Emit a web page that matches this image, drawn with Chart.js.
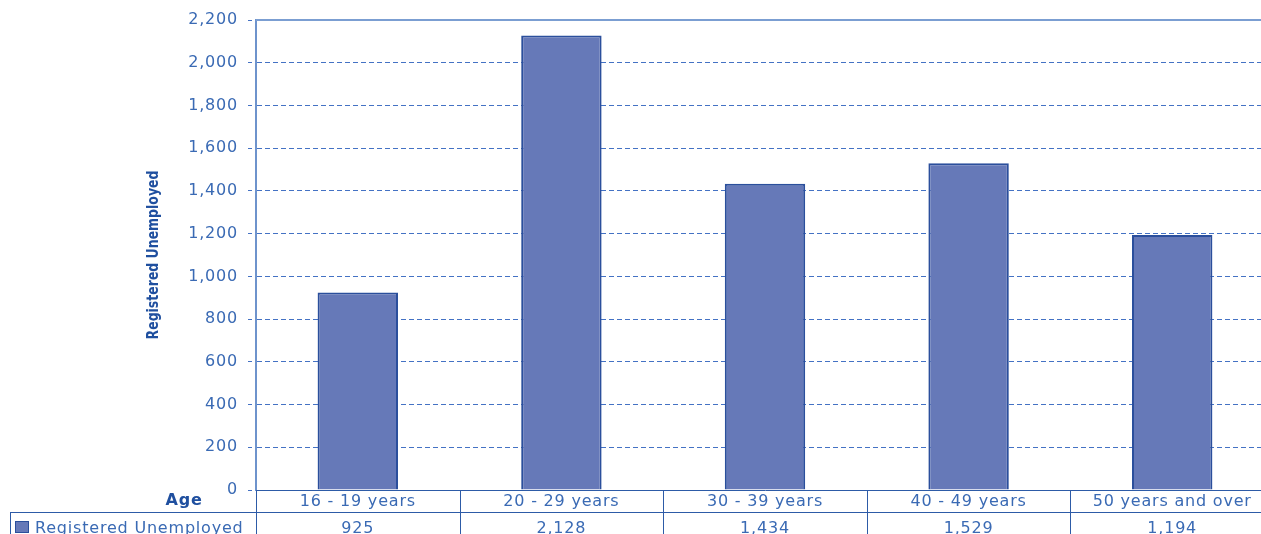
<!DOCTYPE html>
<html>
<head>
<meta charset="utf-8">
<script src="https://cdn.jsdelivr.net/npm/chart.js@4/dist/chart.umd.min.js"></script>
<style>
  html, body { margin: 0; padding: 0; background: #fff; overflow: hidden; }
  #wrap { position: relative; width: 1280px; height: 534px; }
</style>
</head>
<body>
<div id="wrap"><canvas id="chart"></canvas></div>
<script>
// data
const AGES = ['16 - 19 years', '20 - 29 years', '30 - 39 years', '40 - 49 years', '50 years and over'];
const UNEMPLOYED = [925, 2128, 1434, 1529, 1194];
const SERIES_NAME = 'Registered Unemployed';
const AXIS_TITLE = 'Registered Unemployed';
const TABLE_HEAD = 'Age';

const BLUE_TXT = '#3a6ab4';
const DARK_TXT = '#1f4f9f';
const LINE = '#2d5ba7';
const BAR_FILL = '#6679b8';
const BAR_EDGE = '#2b4f9c';
const SPACING = '0.8px';

function fmt(n){ return Number(n).toLocaleString('en-US'); }

// the old chart's text is a bit wider than DejaVu, widen it a little
const spacingPlugin = {
  id: 'spacing',
  beforeLayout(chart){ chart.ctx.letterSpacing = SPACING; },
  beforeDraw(chart){ chart.ctx.letterSpacing = SPACING; }
};

// draws the frame top line, the y title and the data table under the axis
const tablePlugin = {
  id: 'dataTable',
  afterDraw(chart){
    const ctx = chart.ctx;
    const area = chart.chartArea;
    const x = chart.scales.x;
    const catW = (area.right - area.left) / AGES.length;
    const y0 = area.bottom, y1 = area.bottom + 22, y2 = chart.height + 2;
    ctx.save();
    // top frame
    ctx.strokeStyle = '#7b9ed2';
    ctx.lineWidth = 2;
    ctx.beginPath();
    ctx.moveTo(area.left, area.top); ctx.lineTo(area.right, area.top);
    ctx.stroke();

    ctx.strokeStyle = LINE;
    ctx.lineWidth = 1;
    ctx.beginPath();
    for (let i = 0; i <= AGES.length; i++) {
      const px = Math.round(area.left + i * catW) + 0.5;
      ctx.moveTo(px, y0); ctx.lineTo(px, y2);
    }
    ctx.moveTo(10, y1 + 0.5); ctx.lineTo(area.right, y1 + 0.5);
    ctx.moveTo(10.5, y1); ctx.lineTo(10.5, y2);
    ctx.stroke();

    // y title, narrow bold
    ctx.save();
    ctx.letterSpacing = '0px';
    ctx.translate(154, (area.top + area.bottom) / 2);
    ctx.rotate(-Math.PI / 2);
    ctx.scale(0.78, 1);
    ctx.fillStyle = DARK_TXT;
    ctx.font = 'bold 16px "DejaVu Sans", sans-serif';
    ctx.textAlign = 'center';
    ctx.textBaseline = 'middle';
    ctx.fillText(AXIS_TITLE, 0, 0);
    ctx.restore();

    // header cell
    ctx.fillStyle = DARK_TXT;
    ctx.font = 'bold 16px "DejaVu Sans", sans-serif';
    ctx.textAlign = 'center';
    ctx.textBaseline = 'middle';
    ctx.fillText(TABLE_HEAD, 184, y0 + 11);

    // legend cell
    ctx.fillStyle = BAR_FILL;
    ctx.fillRect(15, y1 + 9, 14, 12);
    ctx.strokeStyle = BAR_EDGE;
    ctx.strokeRect(15.5, y1 + 9.5, 13, 11);
    ctx.fillStyle = BLUE_TXT;
    ctx.font = '16px "DejaVu Sans", sans-serif';
    ctx.textAlign = 'left';
    ctx.fillText(SERIES_NAME, 35, y1 + 17);

    // values row
    ctx.textAlign = 'center';
    UNEMPLOYED.forEach((v, i) => {
      ctx.fillText(fmt(v), x.getPixelForValue(i), y1 + 17);
    });
    ctx.restore();
  }
};

new Chart(document.getElementById('chart'), {
  type: 'bar',
  data: {
    labels: AGES,
    datasets: [{
      label: SERIES_NAME,
      data: UNEMPLOYED,
      backgroundColor: BAR_FILL,
      borderColor: BAR_EDGE,
      borderWidth: 2,
      categoryPercentage: 1,
      barPercentage: 0.395
    }]
  },
  options: {
    responsive: true,
    maintainAspectRatio: false,
    animation: false,
    layout: { padding: { top: 20, right: 6, left: 0, bottom: 0 } },
    plugins: { legend: { display: false }, tooltip: { enabled: false } },
    scales: {
      x: {
        afterFit(s){ s.height = 44; },
        grid: { display: true, drawOnChartArea: false, drawTicks: false },
        border: { display: true, color: LINE, width: 1 },
        ticks: { color: BLUE_TXT, font: { family: 'DejaVu Sans', size: 16 }, padding: 2, maxRotation: 0, autoSkip: false }
      },
      y: {
        min: 0, max: 2200,
        afterFit(s){ s.width = 256; },
        border: { display: true, color: '#6e93cc', width: 2, dash: [5, 3] },
        grid: {
          color: ctx => ctx.tick && (ctx.tick.value === 0 || ctx.tick.value === 2200) ? 'rgba(0,0,0,0)' : '#4472c4',
          lineWidth: 1,
          tickLength: 8,
          tickColor: '#4472c4',
          tickBorderDash: [4, 4]
        },
        ticks: {
          stepSize: 200,
          color: BLUE_TXT,
          padding: 10,
          font: { family: 'DejaVu Sans', size: 16 },
          callback: v => fmt(v)
        },
        title: { display: false }
      }
    }
  },
  plugins: [spacingPlugin, tablePlugin]
});
</script>
</body>
</html>
